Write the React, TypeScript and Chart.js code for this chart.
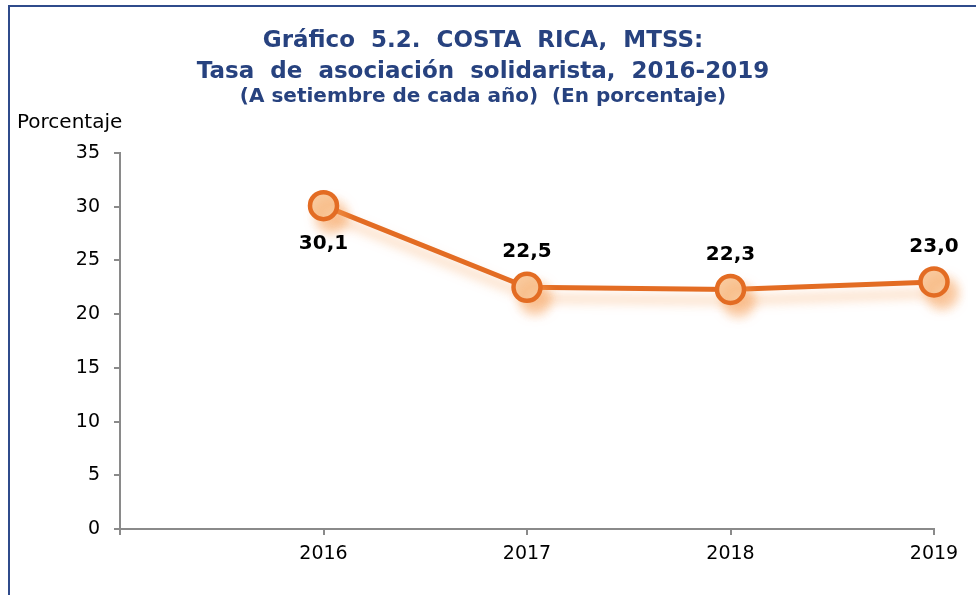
import React, { useEffect, useRef } from 'react';
import { Chart, registerables } from 'chart.js';

Chart.register(...registerables);

// ---- data ----
const years: string[] = ['2016', '2017', '2018', '2019'];
const rates: number[] = [30.1, 22.5, 22.3, 23.0];
const labelSides: string[] = ['below', 'above', 'above', 'above'];
const titleLines: string[] = ['Gráfico  5.2.  COSTA  RICA,  MTSS:', 'Tasa  de  asociación  solidarista,  2016-2019'];
const subtitleText = '(A setiembre de cada año)  (En porcentaje)';
const yAxisName = 'Porcentaje';
const yMin = 0;
const yMax = 35;
const yStep = 5;

const FONT = 'DejaVu Sans';
const TITLE_COLOR = '#27427F';
const FRAME_COLOR = '#2F4B8B';
const AXIS_COLOR = '#8A8A8A';
const LINE_COLOR = '#E36C23';
const POINT_FILL = '#F9CA9E';

const fmt = (v: number) => v.toFixed(1).replace('.', ',');

export default function App() {
  const ref = useRef<HTMLCanvasElement>(null);

  useEffect(() => {
    const canvas = ref.current;
    if (!canvas) return;
    const labels = ['', ...years];
    const data = [null, ...rates];

    const decor = {
      id: 'decor',
      beforeDatasetsDraw(chart: any) {
        const ctx = chart.ctx;
        ctx.save();
        ctx.shadowColor = 'rgba(245,155,80,0.55)';
        ctx.shadowBlur = 11;
        ctx.shadowOffsetX = 8;
        ctx.shadowOffsetY = 11;
      },
      afterDatasetsDraw(chart: any) {
        const ctx = chart.ctx;
        ctx.restore();
        const meta = chart.getDatasetMeta(0);
        ctx.save();
        ctx.font = `bold 20px "${FONT}"`;
        ctx.fillStyle = '#000000';
        ctx.textAlign = 'center';
        ctx.textBaseline = 'middle';
        rates.forEach((v, i) => {
          const el = meta.data[i + 1];
          if (!el) return;
          const dy = labelSides[i] === 'below' ? 38 : -35;
          ctx.fillText(fmt(v), el.x, el.y + dy);
        });
        ctx.restore();
      },
      afterDraw(chart: any) {
        const ctx = chart.ctx;
        ctx.save();
        ctx.font = `20px "${FONT}"`;
        ctx.fillStyle = '#000000';
        ctx.textAlign = 'left';
        ctx.textBaseline = 'alphabetic';
        ctx.fillText(yAxisName, 9, 119.5);
        ctx.restore();
      },
    };

    const chart = new Chart(canvas, {
      type: 'line',
      data: {
        labels,
        datasets: [
          {
            data,
            borderColor: LINE_COLOR,
            borderWidth: 5,
            pointRadius: 13.5,
            pointHoverRadius: 13.5,
            pointBorderWidth: 4.5,
            pointBackgroundColor: POINT_FILL,
            pointBorderColor: LINE_COLOR,
            tension: 0,
            clip: false as any,
          },
        ],
      },
      options: {
        responsive: false,
        animation: false,
        events: [],
        layout: { padding: { left: 24, right: 42, top: 0, bottom: 0 } },
        plugins: {
          legend: { display: false },
          tooltip: { enabled: false },
          title: {
            display: true,
            text: titleLines,
            color: TITLE_COLOR,
            font: { family: FONT, size: 23, weight: 'bold', lineHeight: 1.335 },
            padding: { top: 17.6, bottom: 0 },
          },
          subtitle: {
            display: true,
            text: subtitleText,
            color: TITLE_COLOR,
            font: { family: FONT, size: 20, weight: 'bold', lineHeight: 1 },
            padding: { top: 0, bottom: 46 },
          },
        },
        scales: {
          x: {
            offset: false,
            ticks: {
              color: '#000000',
              font: { family: FONT, size: 19 },
              padding: 8,
              maxRotation: 0,
              autoSkip: false,
            },
            grid: {
              offset: false,
              drawOnChartArea: false,
              drawTicks: true,
              tickLength: 6,
              color: AXIS_COLOR,
              lineWidth: 2,
            },
            border: { display: true, color: AXIS_COLOR, width: 2 },
            afterFit(scale: any) {
              scale.height = 66;
            },
          },
          y: {
            min: yMin,
            max: yMax,
            ticks: {
              stepSize: yStep,
              color: '#000000',
              font: { family: FONT, size: 19 },
              padding: 14,
            },
            grid: {
              drawOnChartArea: false,
              drawTicks: true,
              tickLength: 6,
              color: AXIS_COLOR,
              lineWidth: 2,
            },
            border: { display: true, color: AXIS_COLOR, width: 2 },
            afterFit(scale: any) {
              scale.width = 88;
            },
          },
        },
      },
      plugins: [decor],
    });

    return () => chart.destroy();
  }, []);

  return (
    <div style={{ position: 'relative', width: 968, height: 587 }}>
      <div style={{ position: 'fixed', left: 8, top: 5, width: 2, height: 590, background: FRAME_COLOR, zIndex: 2 }} />
      <div style={{ position: 'fixed', left: 8, top: 5, width: 968, height: 2, background: FRAME_COLOR, zIndex: 2 }} />
      <canvas ref={ref} width={968} height={587} style={{ position: 'absolute', left: 0, top: 0, display: 'block' }} />
    </div>
  );
}
